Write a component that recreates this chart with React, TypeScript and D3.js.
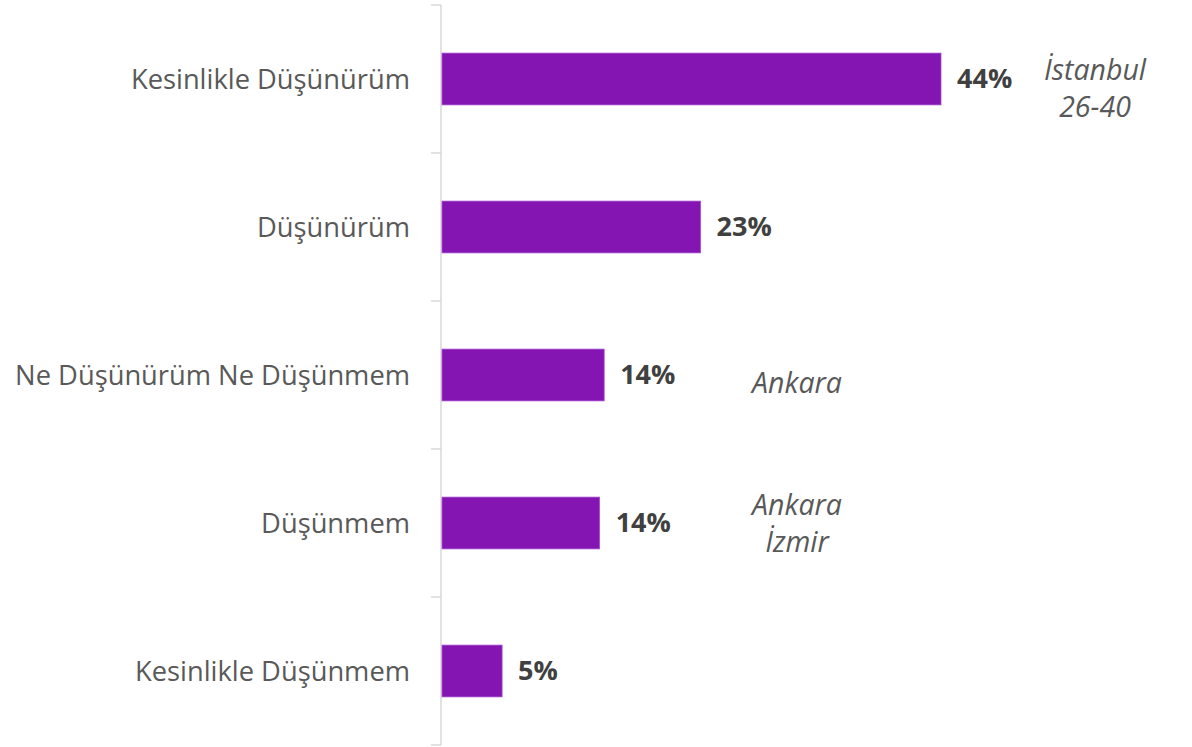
import * as d3 from "d3";
import { useEffect, useRef } from "react";

const categories = [
  "Kesinlikle Düşünürüm",
  "Düşünürüm",
  "Ne Düşünürüm Ne Düşünmem",
  "Düşünmem",
  "Kesinlikle Düşünmem",
];
const values = [44.0, 22.8, 14.3, 13.9, 5.3];
const notes = [["İstanbul", "26-40"], [], ["Ankara"], ["Ankara", "İzmir"], []];

const WIDTH = 1192;
const HEIGHT = 747;

export default function App() {
  const svgRef = useRef<SVGSVGElement>(null);

  useEffect(() => {
    const svg = d3.select(svgRef.current);
    svg.selectAll("*").remove();

    const left = 441;
    const top = 5;
    const bottom = 745;

    const y = d3.scaleBand().domain(categories).range([top, bottom]).paddingInner(0.65).paddingOuter(0.325);
    // band step = 148, bar height ~52
    const x = d3.scaleLinear().domain([0, 44]).range([left, left + 499]);

    const font = "'Open Sans', 'Noto Sans', sans-serif";

    // axis line + ticks between categories
    const axis = svg.append("g");
    axis.append("line")
      .attr("x1", left).attr("x2", left)
      .attr("y1", top).attr("y2", bottom)
      .attr("stroke", "#d9d9d9").attr("stroke-width", 1.5);
    const tickYs = d3.range(categories.length + 1).map((i) => top + i * y.step());
    axis.selectAll("line.tick")
      .data(tickYs)
      .join("line")
      .attr("class", "tick")
      .attr("x1", left - 10).attr("x2", left)
      .attr("y1", (d) => d).attr("y2", (d) => d)
      .attr("stroke", "#d9d9d9").attr("stroke-width", 1.5);

    // category labels
    svg.append("g")
      .selectAll("text")
      .data(categories)
      .join("text")
      .attr("x", left - 31)
      .attr("y", (d) => (y(d) ?? 0) + y.bandwidth() / 2)
      .attr("dy", "0.35em")
      .attr("text-anchor", "end")
      .attr("font-family", font)
      .attr("font-size", 27.3)
      .attr("fill", "#595959")
      .text((d) => d);

    // bars
    svg.append("g")
      .selectAll("rect")
      .data(values)
      .join("rect")
      .attr("x", x(0) + 1)
      .attr("y", (_, i) => y(categories[i]) ?? 0)
      .attr("width", (d) => x(d) - x(0))
      .attr("height", y.bandwidth())
      .attr("fill", "#8515B3")
      .attr("stroke", "#a44fd0")
      .attr("stroke-width", 0.75);

    // value labels
    svg.append("g")
      .selectAll("text")
      .data(values)
      .join("text")
      .attr("x", (d) => x(d) + 17)
      .attr("y", (_, i) => (y(categories[i]) ?? 0) + y.bandwidth() / 2)
      .attr("dy", "0.35em")
      .attr("font-family", font)
      .attr("font-size", 27)
      .attr("font-weight", 700)
      .attr("fill", "#404040")
      .text((d) => `${d3.format(".0f")(d)}%`);

    // italic notes (baselines)
    const noteX = [1095, 0, 797, 797, 0];
    const noteY = [80, 0, 393, 515, 0];
    const ng = svg.append("g");
    notes.forEach((lines, i) => {
      lines.forEach((t, j) => {
        ng.append("text")
          .attr("x", noteX[i])
          .attr("y", noteY[i] + j * 37)
          .attr("text-anchor", "middle")
          .attr("font-family", font)
          .attr("font-size", 28.5)
          .attr("font-style", "italic")
          .attr("fill", "#595959")
          .text(t);
      });
    });
  }, []);

  return (
    <svg
      ref={svgRef}
      width={WIDTH}
      height={HEIGHT}
      style={{ position: "absolute", left: 0, top: 0, background: "#fff" }}
    />
  );
}
